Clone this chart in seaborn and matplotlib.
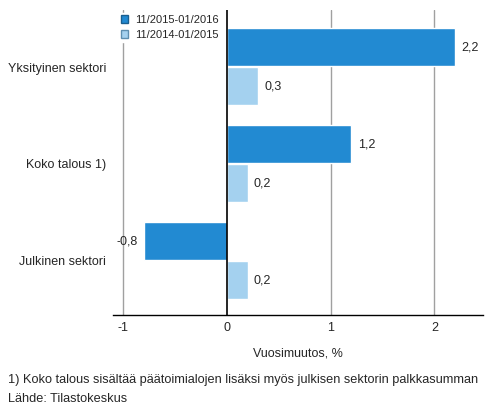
import matplotlib
matplotlib.use('Agg')
import matplotlib.pyplot as plt
from matplotlib.patches import Patch
import seaborn as sns
import pandas as pd

# Tiedot
categories = ['Yksityinen sektori', 'Koko talous 1)', 'Julkinen sektori']
series = ['11/2015-01/2016', '11/2014-01/2015']
values_2016 = [2.2, 1.2, -0.8]
values_2015 = [0.3, 0.2, 0.2]
colors = ['#228AD2', '#A4D1EF']
edge_colors = ['#1A5F90', '#5E8FB0']

df = pd.DataFrame({
    'sektori': categories * 2,
    'jakso': [series[0]] * 3 + [series[1]] * 3,
    'muutos': values_2016 + values_2015,
})

sns.set_style('white')
plt.rcParams['font.family'] = ['Liberation Sans', 'DejaVu Sans']
fs = 9

fig = plt.figure(figsize=(4.93, 4.16), dpi=100)
ax = fig.add_axes([0.229, 0.243, 0.751, 0.733])

ax.set_xlim(-1.1, 2.47)
ax.set_xticks([-1, 0, 1, 2])
for x in [-1, 1, 2]:
    ax.axvline(x, color='#A0A0A0', lw=1, zorder=0)

sns.barplot(data=df, y='sektori', x='muutos', hue='jakso', orient='h',
            order=categories, hue_order=series, palette=colors,
            width=0.8, saturation=1, legend=False, ax=ax, zorder=2)
ax.set_ylim(2.56, -0.59)

for cont in ax.containers:
    for bar in cont:
        h = bar.get_height()
        bar.set_height(h * 0.98)
        w = bar.get_width()
        end = bar.get_x() + w
        y = bar.get_y() + h / 2
        txt = f'{w:.1f}'.replace('.', ',')
        if w >= 0:
            ax.text(end + 0.06, y, txt, va='center', ha='left', fontsize=fs)
        else:
            ax.text(end - 0.06, y, txt, va='center', ha='right', fontsize=fs)

ax.axvline(0, color='black', lw=1.2, zorder=3)

for s in ['top', 'right', 'left']:
    ax.spines[s].set_visible(False)
ax.spines['bottom'].set_color('black')
ax.spines['bottom'].set_linewidth(1)

ax.set_ylabel('')
ax.set_xlabel('Vuosimuutos, %', fontsize=fs, labelpad=10)
ax.tick_params(axis='both', length=0, labelsize=fs)
ax.tick_params(axis='x', pad=5)
ax.tick_params(axis='y', pad=5)
ax.set_xticklabels(['-1', '0', '1', '2'])

handles = [Patch(facecolor=colors[i], edgecolor=edge_colors[i], label=series[i]) for i in range(2)]
leg = fig.legend(handles=handles, loc='upper left', bbox_to_anchor=(0.242, 0.968),
                 frameon=True, fontsize=8, handlelength=0.65, handleheight=0.65,
                 handletextpad=0.6, labelspacing=0.45, borderpad=0.15, borderaxespad=0)
leg.get_frame().set_edgecolor('white')
leg.get_frame().set_facecolor('white')
leg.get_frame().set_alpha(1)

fig.text(0.016, 0.086, '1) Koko talous sisältää päätoimialojen lisäksi myös julkisen sektorin palkkasumman',
         fontsize=9.2, va='center')
fig.text(0.016, 0.04, 'Lähde: Tilastokeskus', fontsize=9.2, va='center')

fig.savefig('out.png', dpi=100)
